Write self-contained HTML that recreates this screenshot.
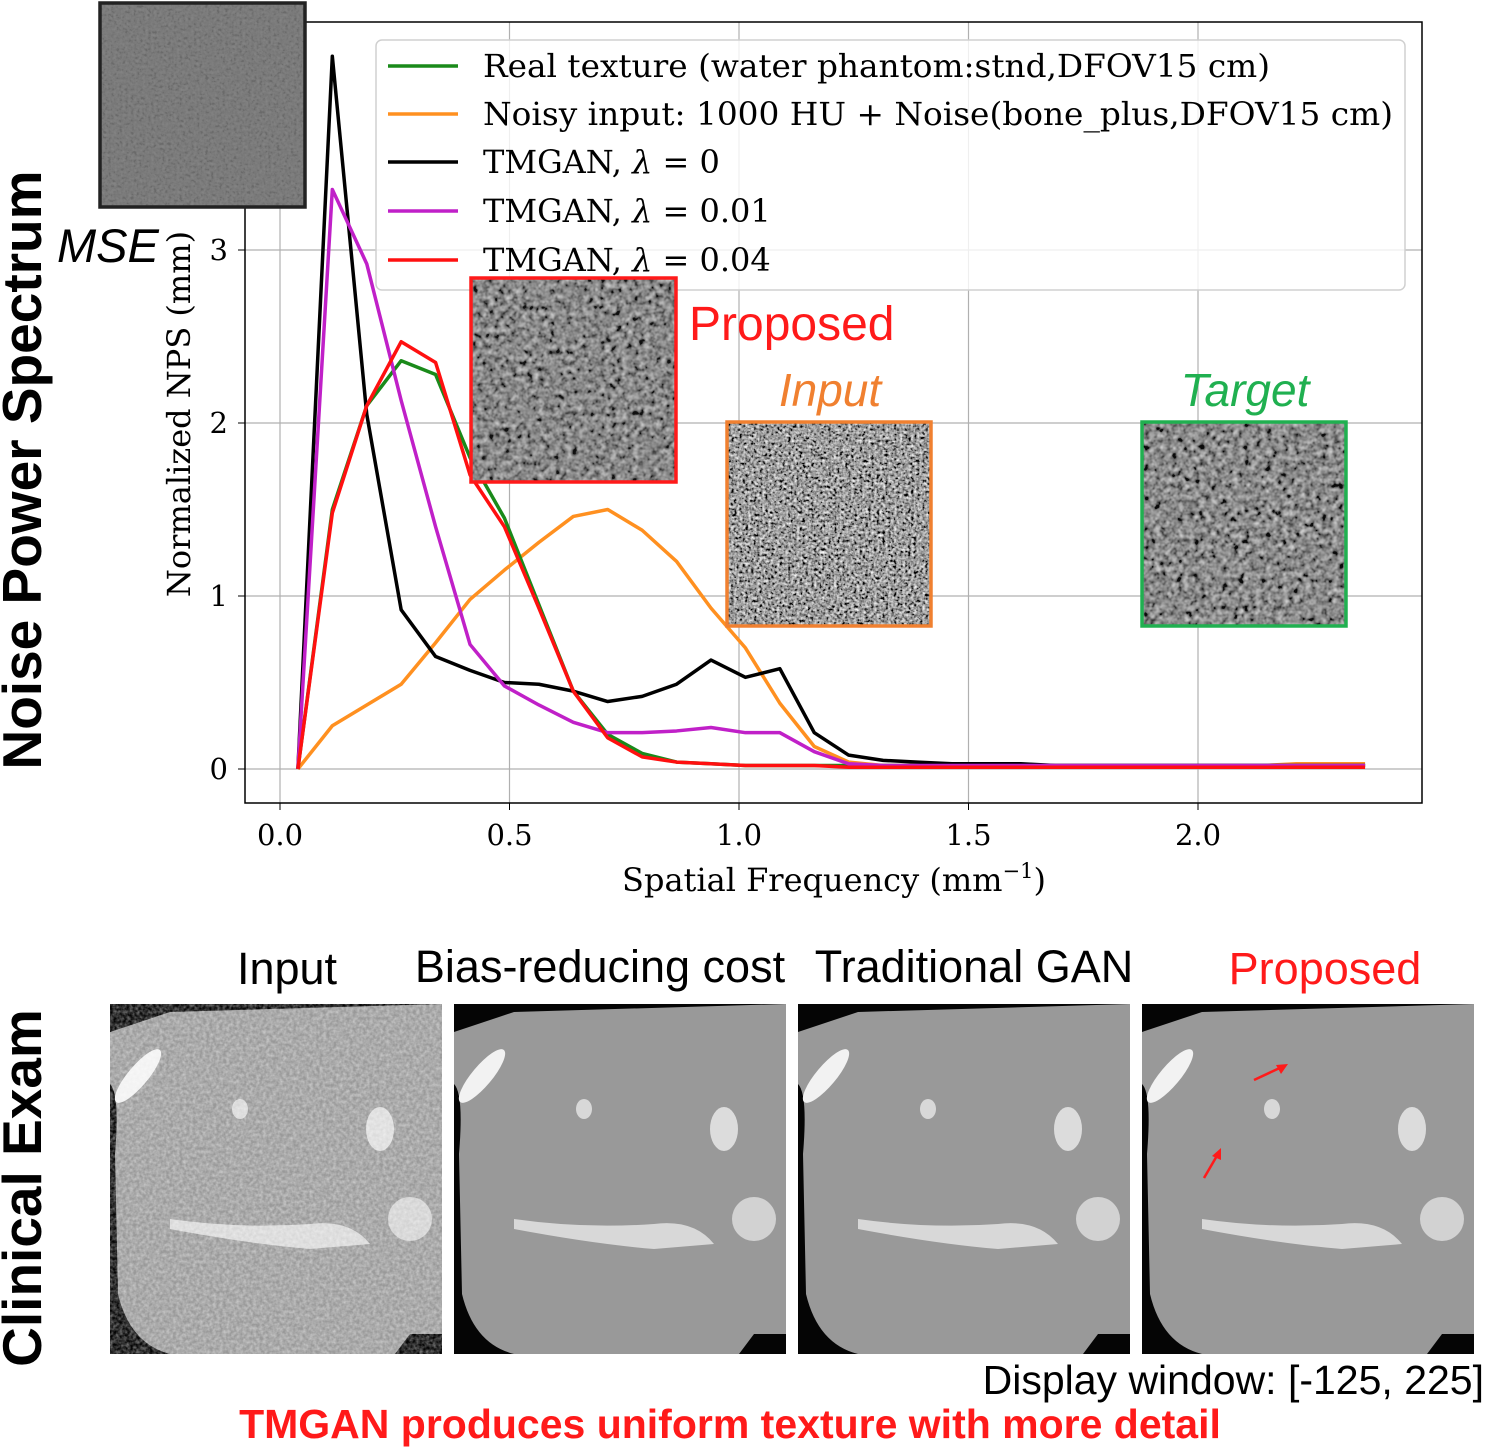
<!DOCTYPE html>
<html><head><meta charset="utf-8"><style>
html,body{margin:0;padding:0;background:#fff;}
svg{display:block;}
.serif{font-family:"DejaVu Serif","Liberation Serif",serif;}
.sans{font-family:"Liberation Sans","DejaVu Sans",sans-serif;}
</style></head><body>
<svg id="fig" width="1486" height="1448" viewBox="0 0 1486 1448" xmlns="http://www.w3.org/2000/svg">
<defs>
<filter id="noiseFine" x="0" y="0" width="100%" height="100%">
<feTurbulence type="fractalNoise" baseFrequency="0.35" numOctaves="2" seed="3"/>
<feColorMatrix type="matrix" values="0.33 0.33 0.33 0 0  0.33 0.33 0.33 0 0  0.33 0.33 0.33 0 0  0 0 0 0 1"/>
<feComponentTransfer><feFuncR type="linear" slope="2.6" intercept="-0.95"/><feFuncG type="linear" slope="2.6" intercept="-0.95"/><feFuncB type="linear" slope="2.6" intercept="-0.95"/></feComponentTransfer>
</filter>
<filter id="noiseMed" x="0" y="0" width="100%" height="100%">
<feTurbulence type="fractalNoise" baseFrequency="0.18" numOctaves="2" seed="7"/>
<feColorMatrix type="matrix" values="0.33 0.33 0.33 0 0  0.33 0.33 0.33 0 0  0.33 0.33 0.33 0 0  0 0 0 0 1"/>
<feComponentTransfer><feFuncR type="linear" slope="1.8" intercept="-0.62"/><feFuncG type="linear" slope="1.8" intercept="-0.62"/><feFuncB type="linear" slope="1.8" intercept="-0.62"/></feComponentTransfer>
</filter>
<filter id="noiseCT" x="0" y="0" width="100%" height="100%">
<feTurbulence type="fractalNoise" baseFrequency="0.3" numOctaves="2" seed="11"/>
<feColorMatrix type="matrix" values="0 0 0 0 1  0 0 0 0 1  0 0 0 0 1  0 0 0 1.4 -0.35"/>
</filter>
<g id="ct">
<rect width="332" height="350" fill="#050505"/>
<path d="M0,28 L60,8 L332,0 L332,330 L300,330 L285,350 L60,350 Q20,340 8,290 L5,150 Q10,90 0,80 Z" fill="#999"/>
<ellipse cx="28" cy="72" rx="10" ry="34" transform="rotate(40 28 72)" fill="#f2f2f2"/>
<ellipse cx="130" cy="105" rx="8" ry="10" fill="#d8d8d8"/>
<ellipse cx="270" cy="125" rx="14" ry="22" fill="#dcdcdc"/>
<path d="M60,215 Q130,225 200,220 Q240,215 260,240 L200,245 Q140,240 60,225 Z" fill="#d8d8d8"/>
<circle cx="300" cy="215" r="22" fill="#d2d2d2"/>
</g>
</defs>

<g id="chart">
<rect x="245" y="22" width="1177" height="781" fill="#fff" stroke="none"/>
<g id="grid"></g>
<g id="lines"></g>
<rect x="245" y="22" width="1177" height="781" fill="none" stroke="#000" stroke-width="1.5"/>
<g id="ticks" class="serif" font-size="29" fill="#000"></g>
<text class="serif" x="834" y="891" font-size="32" text-anchor="middle">Spatial Frequency (mm<tspan dy="-13" font-size="21">−1</tspan><tspan dy="13">)</tspan></text>
<text class="serif" transform="translate(190,414) rotate(-90)" font-size="32" text-anchor="middle">Normalized NPS (mm)</text>
</g>

<g class="serif" font-size="32">
<rect x="376" y="40" width="1029" height="250" rx="6" fill="#fff" fill-opacity="0.8" stroke="#d0d0d0" stroke-width="1.5"/>
<g><line x1="388" y1="66" x2="458" y2="66" stroke="#1a8a1a" stroke-width="3.5"/><text x="483" y="77" textLength="787" lengthAdjust="spacingAndGlyphs">Real texture (water phantom:stnd,DFOV15 cm)</text></g>
<g><line x1="388" y1="114" x2="458" y2="114" stroke="#ff9020" stroke-width="3.5"/><text x="483" y="125" textLength="910" lengthAdjust="spacingAndGlyphs">Noisy input: 1000 HU + Noise(bone_plus,DFOV15 cm)</text></g>
<g><line x1="388" y1="162" x2="458" y2="162" stroke="#000" stroke-width="3.5"/><text x="483" y="173">TMGAN, <tspan font-style="italic">λ</tspan> = 0</text></g>
<g><line x1="388" y1="211" x2="458" y2="211" stroke="#c020c8" stroke-width="3.5"/><text x="483" y="222">TMGAN, <tspan font-style="italic">λ</tspan> = 0.01</text></g>
<g><line x1="388" y1="260" x2="458" y2="260" stroke="#ff1010" stroke-width="3.5"/><text x="483" y="271">TMGAN, <tspan font-style="italic">λ</tspan> = 0.04</text></g>
</g>

<g>
<rect x="100" y="3" width="205" height="204" fill="#777"/>
<rect x="100" y="3" width="205" height="204" filter="url(#noiseFine)" opacity="0.1"/>
<rect x="100" y="3" width="205" height="204" fill="none" stroke="#222" stroke-width="3.5"/>
</g>
<text class="sans" x="57" y="262" font-size="47" font-style="italic">MSE</text>

<g>
<rect x="471" y="278" width="205" height="204" fill="#666"/>
<rect x="471" y="278" width="205" height="204" filter="url(#noiseMed)" opacity="0.85"/>
<rect x="471" y="278" width="205" height="204" fill="none" stroke="#ff1a1a" stroke-width="3.5"/>
</g>
<text class="sans" x="689" y="340" font-size="48" fill="#ff1a1a">Proposed</text>

<g>
<rect x="727" y="422" width="204" height="204" fill="#666"/>
<rect x="727" y="422" width="204" height="204" filter="url(#noiseFine)"/>
<rect x="727" y="422" width="204" height="204" fill="none" stroke="#f08030" stroke-width="3.5"/>
</g>
<text class="sans" x="830" y="406" font-size="46" font-style="italic" fill="#f08030" text-anchor="middle">Input</text>

<g>
<rect x="1142" y="422" width="204" height="204" fill="#666"/>
<rect x="1142" y="422" width="204" height="204" filter="url(#noiseMed)" opacity="0.9"/>
<rect x="1142" y="422" width="204" height="204" fill="none" stroke="#20b050" stroke-width="3.5"/>
</g>
<text class="sans" x="1245" y="406" font-size="46" font-style="italic" fill="#20b050" text-anchor="middle">Target</text>

<text class="sans" transform="translate(41,470) rotate(-90)" font-size="55" font-weight="bold" text-anchor="middle">Noise Power Spectrum</text>

<text class="sans" transform="translate(41,1188) rotate(-90)" font-size="55" font-weight="bold" text-anchor="middle">Clinical Exam</text>
<g class="sans" font-size="45" text-anchor="middle">
<text x="287" y="984">Input</text>
<text x="600" y="982">Bias-reducing cost</text>
<text x="974" y="982">Traditional GAN</text>
<text x="1325" y="984" fill="#ff1a1a">Proposed</text>
</g>
<g transform="translate(110,1004)"><use href="#ct"/><path d="M0,28 L60,8 L332,0 L332,330 L300,330 L285,350 L60,350 Q20,340 8,290 L5,150 Q10,90 0,80 Z" fill="#fff" filter="url(#noiseCT)" opacity="0.5"/></g>
<g transform="translate(454,1004)"><use href="#ct"/></g>
<g transform="translate(798,1004)"><use href="#ct"/></g>
<g transform="translate(1142,1004)"><use href="#ct"/>
<line x1="112" y1="76" x2="142" y2="62" stroke="#ff1a1a" stroke-width="2.5"/><path d="M146,60 L134,61 L139,70 Z" fill="#ff1a1a"/>
<line x1="62" y1="174" x2="76" y2="150" stroke="#ff1a1a" stroke-width="2.5"/><path d="M79,144 L70,152 L79,156 Z" fill="#ff1a1a"/>
</g>
<text class="sans" x="1484" y="1394" font-size="41" text-anchor="end">Display window: [-125, 225]</text>
<text class="sans" x="730" y="1438" font-size="41" font-weight="bold" fill="#ff1a1a" text-anchor="middle">TMGAN produces uniform texture with more detail</text>
</svg>
<script>
const freqs=[0.039,0.114,0.189,0.264,0.339,0.414,0.489,0.564,0.639,0.714,0.789,0.864,0.939,1.014,1.089,1.164,1.239,1.314,1.389,1.464,1.539,1.614,1.689,1.764,1.839,1.914,1.989,2.064,2.139,2.214,2.289,2.364];
const realTexture=[0,1.5,2.1,2.36,2.28,1.8,1.45,0.95,0.45,0.2,0.09,0.04,0.03,0.02,0.02,0.02,0.02,0.02,0.02,0.02,0.02,0.02,0.02,0.02,0.02,0.02,0.02,0.02,0.02,0.02,0.02,0.02];
const noisyInput=[0,0.25,0.37,0.49,0.73,0.98,1.15,1.31,1.46,1.5,1.38,1.2,0.93,0.7,0.38,0.13,0.04,0.02,0.02,0.02,0.02,0.02,0.02,0.02,0.02,0.02,0.02,0.02,0.02,0.03,0.03,0.03];
const lambda0=[0,4.12,2.05,0.92,0.65,0.57,0.5,0.49,0.45,0.39,0.42,0.49,0.63,0.53,0.58,0.21,0.08,0.05,0.04,0.03,0.03,0.03,0.02,0.02,0.02,0.02,0.02,0.02,0.02,0.02,0.02,0.02];
const lambda001=[0,3.35,2.92,2.13,1.4,0.72,0.48,0.37,0.27,0.21,0.21,0.22,0.24,0.21,0.21,0.1,0.03,0.02,0.02,0.02,0.02,0.02,0.02,0.02,0.02,0.02,0.02,0.02,0.02,0.02,0.02,0.02];
const lambda004=[0,1.48,2.1,2.47,2.35,1.7,1.4,0.93,0.45,0.18,0.07,0.04,0.03,0.02,0.02,0.02,0.01,0.01,0.01,0.01,0.01,0.01,0.01,0.01,0.01,0.01,0.01,0.01,0.01,0.01,0.01,0.01];
const xTicks=[0.0,0.5,1.0,1.5,2.0];
const xTickLabels=["0.0","0.5","1.0","1.5","2.0"];
const yTicks=[0,1,2,3];
const yTickLabels=["0","1","2","3"];
const NS="http://www.w3.org/2000/svg";
function xs(v){return 280+v*459;}
function ys(v){return 769-v*173;}
const grid=document.getElementById('grid'),ticks=document.getElementById('ticks'),lines=document.getElementById('lines');
xTicks.forEach((t,i)=>{
 const g=document.createElementNS(NS,'line');
 
 
 g.setAttribute('x1',xs(t));g.setAttribute('x2',xs(t));g.setAttribute('y1',22);g.setAttribute('y2',803);
 g.setAttribute('stroke','#b0b0b0');g.setAttribute('stroke-width','1.2');grid.appendChild(g);
 const k=document.createElementNS(NS,'line');
 
 
 k.setAttribute('x1',xs(t));k.setAttribute('x2',xs(t));k.setAttribute('y1',803);k.setAttribute('y2',810);k.setAttribute('stroke','#000');ticks.appendChild(k);
 const tx=document.createElementNS(NS,'text');
 
 
 tx.setAttribute('x',xs(t));tx.setAttribute('y',845);tx.setAttribute('text-anchor','middle');tx.textContent=xTickLabels[i];ticks.appendChild(tx);
});
yTicks.forEach((t,i)=>{
 const g=document.createElementNS(NS,'line');
 
 
 g.setAttribute('x1',245);g.setAttribute('x2',1422);g.setAttribute('y1',ys(t));g.setAttribute('y2',ys(t));
 g.setAttribute('stroke','#b0b0b0');g.setAttribute('stroke-width','1.2');grid.appendChild(g);
 const k=document.createElementNS(NS,'line');
 
 
 k.setAttribute('x1',238);k.setAttribute('x2',245);k.setAttribute('y1',ys(t));k.setAttribute('y2',ys(t));k.setAttribute('stroke','#000');ticks.appendChild(k);
 const tx=document.createElementNS(NS,'text');
 
 
 tx.setAttribute('x',228);tx.setAttribute('y',ys(t)+10);tx.setAttribute('text-anchor','end');tx.textContent=yTickLabels[i];ticks.appendChild(tx);
});
const series=[[noisyInput,'#ff9020','series-noisy-input'],[realTexture,'#1a8a1a','series-real-texture'],[lambda0,'#000','series-tmgan-lambda-0'],[lambda001,'#c020c8','series-tmgan-lambda-0-01'],[lambda004,'#ff1010','series-tmgan-lambda-0-04']];
series.forEach(s=>{
 const p=document.createElementNS(NS,'polyline');
 
 
 p.setAttribute('points',s[0].map((v,i)=>xs(freqs[i])+','+ys(v)).join(' '));
 p.setAttribute('fill','none');p.setAttribute('stroke',s[1]);p.setAttribute('stroke-width','3.5');p.setAttribute('stroke-linejoin','round');
 lines.appendChild(p);
});
</script>
</body></html>
